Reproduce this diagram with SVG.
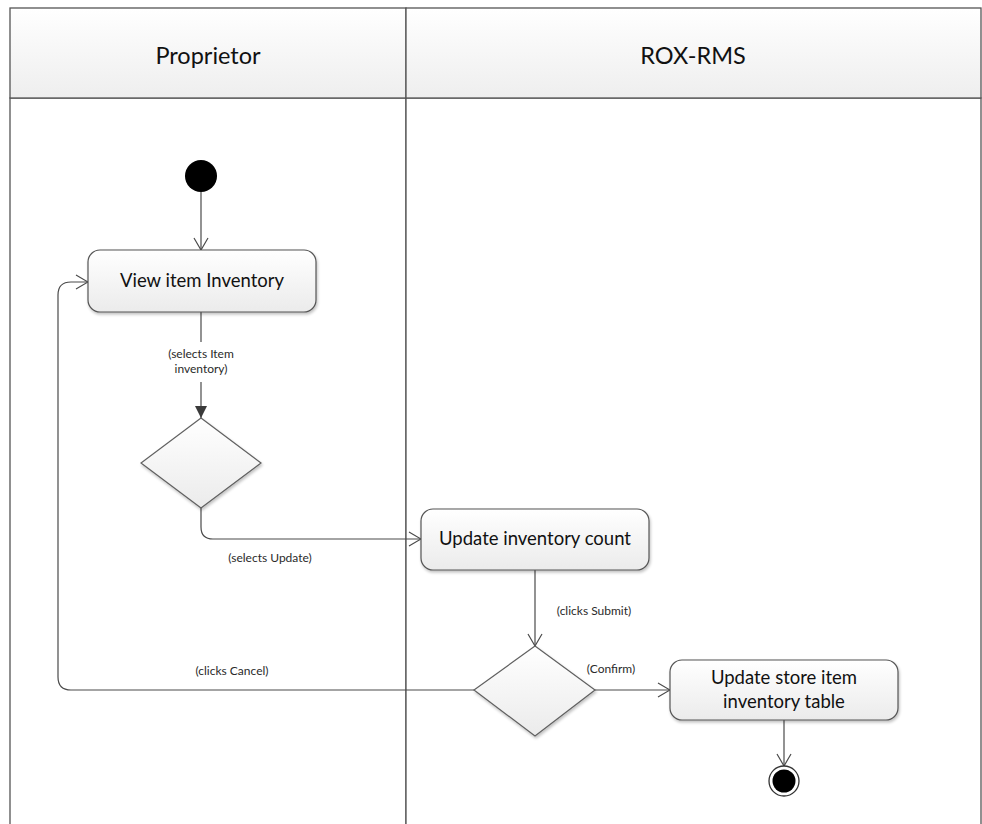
<svg xmlns="http://www.w3.org/2000/svg" width="982" height="824" viewBox="0 0 982 824">
  <defs>
    <linearGradient id="hdr" x1="0" y1="0" x2="0" y2="1">
      <stop offset="0" stop-color="#ffffff"/>
      <stop offset="1" stop-color="#eeeeee"/>
    </linearGradient>
    <linearGradient id="act" x1="0" y1="0" x2="0" y2="1">
      <stop offset="0" stop-color="#ffffff"/>
      <stop offset="1" stop-color="#ebebeb"/>
    </linearGradient>
    <filter id="shadow" x="-10%" y="-10%" width="125%" height="135%">
      <feGaussianBlur in="SourceAlpha" stdDeviation="1.5"/>
      <feOffset dx="1" dy="2" result="b"/>
      <feComponentTransfer><feFuncA type="linear" slope="0.25"/></feComponentTransfer>
      <feMerge><feMergeNode/><feMergeNode in="SourceGraphic"/></feMerge>
    </filter>
    <marker id="open" markerWidth="16" markerHeight="16" viewBox="0 0 16 16" refX="15" refY="8" orient="auto" markerUnits="userSpaceOnUse">
      <path d="M3,1 L15,8 L3,15" fill="none" stroke="#4a4a4a" stroke-width="1.2"/>
    </marker>
    <marker id="solid" markerWidth="14" markerHeight="14" viewBox="0 0 14 14" refX="13" refY="7" orient="auto" markerUnits="userSpaceOnUse">
      <path d="M1,1 L13,7 L1,13 Z" fill="#3a3a3a"/>
    </marker>
  </defs>
  <style>
    .lane { fill: #ffffff; stroke: #555555; stroke-width: 1.3; }
    .head { fill: url(#hdr); stroke: #555555; stroke-width: 1.3; }
    .title { font-family: Lato, "Open Sans", sans-serif; font-size: 23.5px; fill: #111111; text-anchor: middle; }
    .box { fill: url(#act); stroke: #555555; stroke-width: 1.2; filter: url(#shadow); }
    .dia { fill: url(#act); stroke: #606060; stroke-width: 1.2; filter: url(#shadow); }
    .lbl { font-family: Lato, "Open Sans", sans-serif; font-size: 18.5px; fill: #111111; text-anchor: middle; }
    .grd { font-family: Lato, "Open Sans", sans-serif; font-size: 12px; fill: #2a2a2a; text-anchor: middle; }
    .edge { fill: none; stroke: #4a4a4a; stroke-width: 1.2; }
  </style>

  <!-- swimlanes -->
  <g id="lanes">
    <rect class="lane" x="10" y="98" width="396" height="740"/>
    <rect class="lane" x="406" y="98" width="575" height="740"/>
    <rect class="head" x="10" y="8" width="396" height="90"/>
    <rect class="head" x="406" y="8" width="575" height="90"/>
    <text class="title" x="208" y="64">Proprietor</text>
    <text class="title" x="693" y="64">ROX-RMS</text>
  </g>

  <!-- connectors -->
  <g id="connectors">
    <path class="edge" d="M201,192 V250" marker-end="url(#open)"/>
    <path class="edge" d="M201,312 V342"/>
    <path class="edge" d="M201,382 V418" marker-end="url(#solid)"/>
    <text class="grd" x="201" y="358">(selects Item</text>
    <text class="grd" x="201" y="373">inventory)</text>
    <path class="edge" d="M201,508 V527 Q201,539 213,539 H421" marker-end="url(#open)"/>
    <text class="grd" x="270" y="562">(selects Update)</text>
    <path class="edge" d="M535,570 V646" marker-end="url(#open)"/>
    <text class="grd" x="594" y="615">(clicks Submit)</text>
    <path class="edge" d="M595,690 H670" marker-end="url(#open)"/>
    <text class="grd" x="611" y="673">(Confirm)</text>
    <path class="edge" d="M474,690 H71 Q58,690 58,677 V295 Q58,282 71,282 H88" marker-end="url(#open)"/>
    <text class="grd" x="232" y="675">(clicks Cancel)</text>
    <path class="edge" d="M784,720 V766" marker-end="url(#open)"/>
  </g>

  <!-- nodes -->
  <g id="start">
    <circle cx="201" cy="176" r="16" fill="#000000"/>
  </g>
  <g id="view-inventory">
    <rect class="box" x="88" y="250" width="228" height="62" rx="12"/>
    <text class="lbl" x="202" y="287">View item Inventory</text>
  </g>
  <g id="decision-select">
    <polygon class="dia" points="201,418 261,463 201,508 141,463"/>
  </g>
  <g id="update-count">
    <rect class="box" x="421" y="509" width="228" height="61" rx="12"/>
    <text class="lbl" x="535" y="545">Update inventory count</text>
  </g>
  <g id="decision-submit">
    <polygon class="dia" points="535,646 595,690 535,736 474,690"/>
  </g>
  <g id="update-table">
    <rect class="box" x="670" y="660" width="228" height="60" rx="12"/>
    <text class="lbl" x="784" y="684">Update store item</text>
    <text class="lbl" x="784" y="708">inventory table</text>
  </g>
  <g id="end">
    <circle cx="784" cy="781" r="15" fill="#ffffff" stroke="#333333" stroke-width="1.3"/>
    <circle cx="784" cy="781" r="11.5" fill="#000000"/>
  </g>
</svg>
